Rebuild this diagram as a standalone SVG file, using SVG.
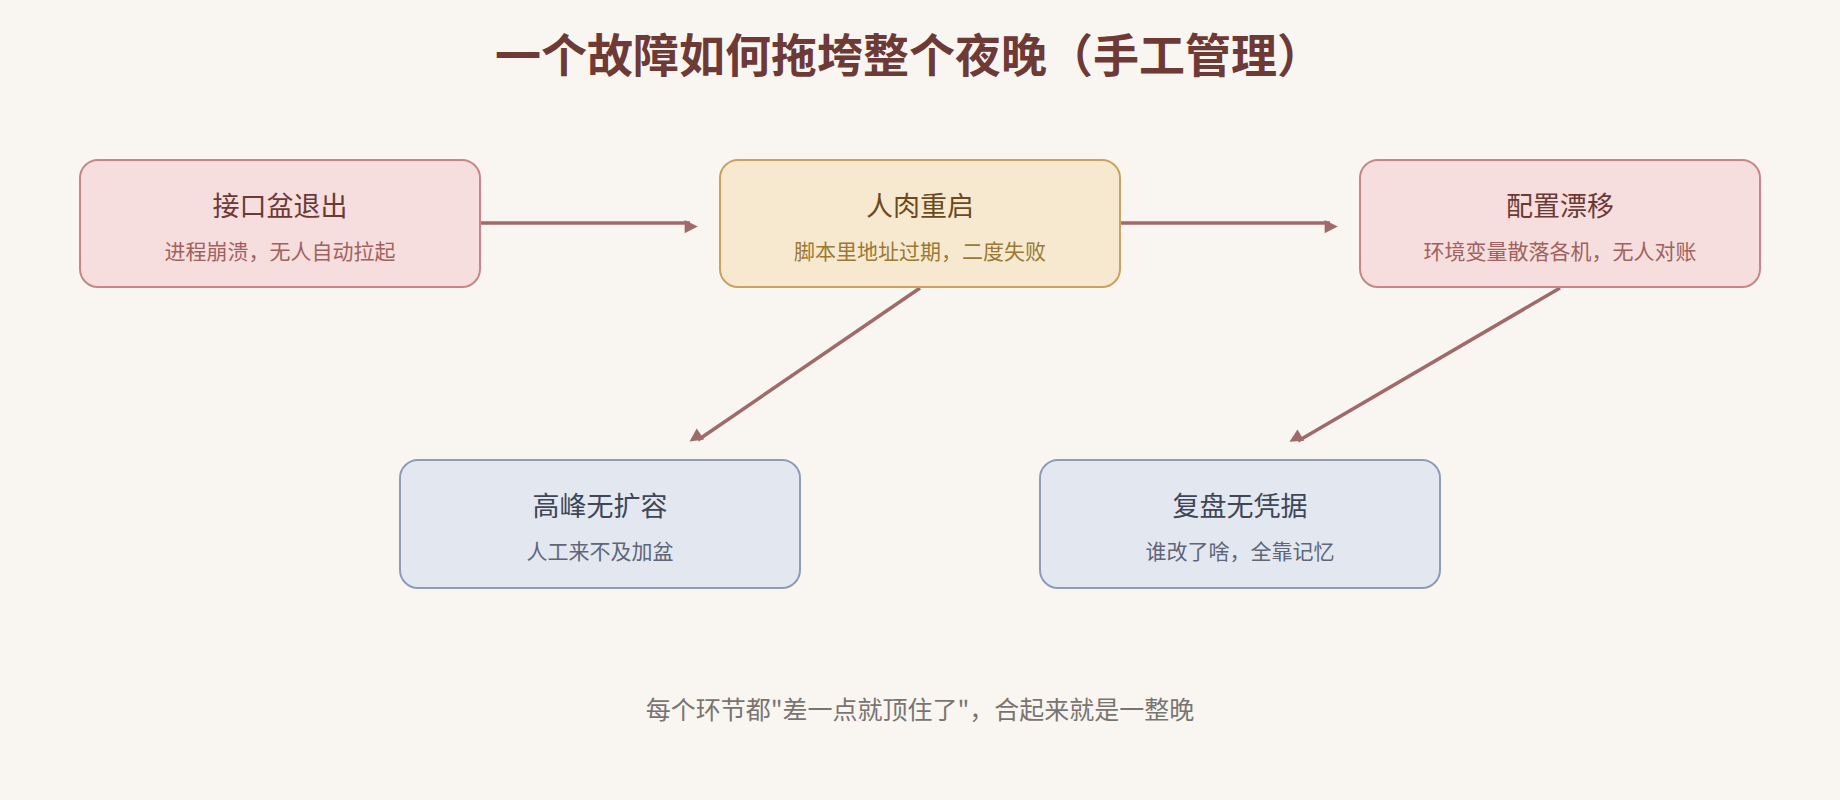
<svg xmlns="http://www.w3.org/2000/svg" width="1840" height="800" viewBox="0 0 1840 800">
<style>
text{font-family:"Noto Sans CJK SC","Noto Sans",sans-serif;text-anchor:middle}
.t{font-size:27px}
.s{font-size:21px}
.red rect{fill:#f5dedd;stroke:#c98588;stroke-width:2}
.red .t{fill:#6b3a36}.red .s{fill:#a0625e}
.yel rect{fill:#f7e9d0;stroke:#c9a260;stroke-width:2}
.yel .t{fill:#6b4a1e}.yel .s{fill:#9a7a32}
.blu rect{fill:#e3e8f0;stroke:#8e9cb8;stroke-width:2}
.blu .t{fill:#3e4658}.blu .s{fill:#5e6678}
.c line{stroke:#a06a6a;stroke-width:3.5;marker-end:url(#ah)}
</style>
<defs><marker id="ah" viewBox="0 0 10 10" refX="9" refY="5" markerWidth="6" markerHeight="6" orient="auto" markerUnits="userSpaceOnUse" style="overflow:visible"><path d="M0,0L10,5L0,10z" fill="#a06a6a" transform="scale(2.2) translate(-5,-5) translate(5,5)"/></marker></defs>
<rect width="1840" height="800" fill="#f9f6f2"/>
<text x="909" y="72" style="font-size:46px;font-weight:bold;fill:#6e3a36">一个故障如何拖垮整个夜晚（手工管理）</text>
<g class="c">
<line x1="481" y1="223" x2="690" y2="223"/>
<line x1="1121" y1="223" x2="1330" y2="223"/>
<line x1="920" y1="288" x2="698" y2="440"/>
<line x1="1560" y1="288" x2="1298" y2="441"/>
</g>
<g id="n1" class="red"><rect x="80" y="160" width="400" height="127" rx="18"/><text class="t" x="280" y="216">接口盆退出</text><text class="s" x="280" y="259">进程崩溃，无人自动拉起</text></g>
<g id="n2" class="yel"><rect x="720" y="160" width="400" height="127" rx="18"/><text class="t" x="920" y="216">人肉重启</text><text class="s" x="920" y="259">脚本里地址过期，二度失败</text></g>
<g id="n3" class="red"><rect x="1360" y="160" width="400" height="127" rx="18"/><text class="t" x="1560" y="216">配置漂移</text><text class="s" x="1560" y="259">环境变量散落各机，无人对账</text></g>
<g id="n4" class="blu"><rect x="400" y="460" width="400" height="128" rx="18"/><text class="t" x="600" y="516">高峰无扩容</text><text class="s" x="600" y="559">人工来不及加盆</text></g>
<g id="n5" class="blu"><rect x="1040" y="460" width="400" height="128" rx="18"/><text class="t" x="1240" y="516">复盘无凭据</text><text class="s" x="1240" y="559">谁改了啥，全靠记忆</text></g>
<text x="920" y="719" style="font-size:25px;fill:#7a7470">每个环节都"差一点就顶住了"，合起来就是一整晚</text>
</svg>
